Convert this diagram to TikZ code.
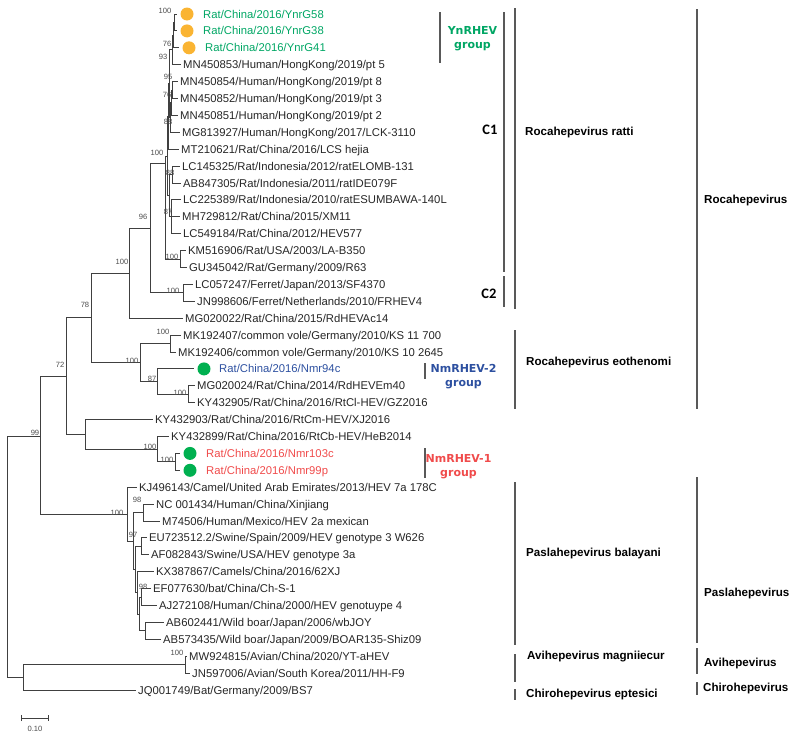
\documentclass[tikz,border=0pt]{standalone}
\usepackage{fontspec}
\setmainfont{Liberation Sans}
\newfontfamily\calfont{Carlito}
\newfontfamily\grpfont{DejaVu Sans}
\usetikzlibrary{arrows.meta}
\definecolor{ynGreen}{RGB}{0,166,100}
\definecolor{dotOrange}{RGB}{250,180,50}
\definecolor{dotGreen}{RGB}{0,176,80}
\definecolor{nmBlue}{RGB}{45,80,160}
\definecolor{nmRed}{RGB}{240,75,75}
\begin{document}
\begin{tikzpicture}[x=1pt,y=-1pt]
\tikzstyle{every node}+=[inner sep=0pt]
\tikzstyle{leaf}=[anchor=west,inner xsep=2.5pt,text height=8.1pt,text depth=0pt,font=\fontsize{11.3}{13}\selectfont,text=black!85]
\tikzstyle{boot}=[font=\fontsize{7.6}{9}\selectfont,text=black!70]
\tikzstyle{br}=[draw=black!75,line width=0.85pt]
\tikzstyle{bar}=[draw=black!65,line width=1.3pt]
\tikzstyle{taxon}=[anchor=west,text height=8.4pt,text depth=0pt,font=\bfseries\fontsize{11.6}{13}\selectfont]
\tikzstyle{clade}=[text height=10pt,text depth=0pt,font=\calfont\bfseries\fontsize{14.5}{16}\selectfont]
\tikzstyle{grp}=[align=center,font=\grpfont\bfseries\fontsize{11}{14}\selectfont]
\tikzstyle{odot}=[circle,fill=dotOrange,minimum size=13pt,outer sep=4pt]
\tikzstyle{gdot}=[circle,fill=dotGreen,minimum size=13pt,outer sep=4pt]
\useasboundingbox (0,0) rectangle (799,739);

\coordinate (root) at (7,556.6);
\coordinate (n99) at (40,436);
\coordinate (nOut) at (23,677.3);
\coordinate (nAvi) at (185,664.65);
\coordinate (n72) at (66,376.1);
\coordinate (nP) at (127,514.15);
\coordinate (n78) at (91,317.8);
\coordinate (nKY) at (85,434.4);
\coordinate (nKYb) at (157,449.2);
\coordinate (nNmr) at (175,461.85);
\coordinate (n100c) at (129,273);
\coordinate (nEo) at (140,362.6);
\coordinate (nMK) at (170,343.55);
\coordinate (n87e) at (157,381.6);
\coordinate (nMG) at (188,394.25);
\coordinate (n96) at (150,228);
\coordinate (nFer) at (183,292.85);
\coordinate (nRat) at (165,163);
\coordinate (nC1) at (167,156.1);
\coordinate (nKM) at (180,259.05);
\coordinate (n100b) at (168,116.45);
\coordinate (nR2) at (169,195.7);
\coordinate (n88b) at (172,174.55);
\coordinate (n87) at (171,216.8);
\coordinate (nHK) at (169,83.7);
\coordinate (n88a) at (170,117.5);
\coordinate (n76b) at (171,102.7);
\coordinate (n95) at (172,90.05);
\coordinate (n93) at (172,49.9);
\coordinate (nYb) at (173,35.1);
\coordinate (nYa) at (174,22.45);
\coordinate (nA) at (133,541.1);
\coordinate (n98a) at (143,512.55);
\coordinate (nG34) at (135,569.6);
\coordinate (nG3) at (141,546.35);
\coordinate (nG4) at (137,592.8);
\coordinate (nG4b) at (139,613.95);
\coordinate (nG4a) at (141,597.05);
\coordinate (nBoar) at (145,630.85);

\node[odot] (d1) at (187,14) {};
\node[leaf,text=ynGreen] (l1) at (200.5,14) {Rat/China/2016/YnrG58};
\node[odot] (d2) at (187,30.9) {};
\node[leaf,text=ynGreen] (l2) at (200.5,30.9) {Rat/China/2016/YnrG38};
\node[odot] (d3) at (189,47.8) {};
\node[leaf,text=ynGreen] (l3) at (202.5,47.8) {Rat/China/2016/YnrG41};
\node[leaf] (l4) at (180.5,64.7) {MN450853/Human/HongKong/2019/pt 5};
\node[leaf] (l5) at (177.5,81.6) {MN450854/Human/HongKong/2019/pt 8};
\node[leaf] (l6) at (177.5,98.5) {MN450852/Human/HongKong/2019/pt 3};
\node[leaf] (l7) at (177.5,115.4) {MN450851/Human/HongKong/2019/pt 2};
\node[leaf] (l8) at (179.5,132.3) {MG813927/Human/HongKong/2017/LCK-3110};
\node[leaf] (l9) at (178.5,149.2) {MT210621/Rat/China/2016/LCS hejia};
\node[leaf] (l10) at (179.5,166.1) {LC145325/Rat/Indonesia/2012/ratELOMB-131};
\node[leaf] (l11) at (180.5,183) {AB847305/Rat/Indonesia/2011/ratIDE079F};
\node[leaf] (l12) at (180.5,199.9) {LC225389/Rat/Indonesia/2010/ratESUMBAWA-140L};
\node[leaf] (l13) at (179.5,216.8) {MH729812/Rat/China/2015/XM11};
\node[leaf] (l14) at (180.5,233.7) {LC549184/Rat/China/2012/HEV577};
\node[leaf] (l15) at (185.5,250.6) {KM516906/Rat/USA/2003/LA-B350};
\node[leaf] (l16) at (186.5,267.5) {GU345042/Rat/Germany/2009/R63};
\node[leaf] (l17) at (192.5,284.4) {LC057247/Ferret/Japan/2013/SF4370};
\node[leaf] (l18) at (194.5,301.3) {JN998606/Ferret/Netherlands/2010/FRHEV4};
\node[leaf] (l19) at (182.5,318.2) {MG020022/Rat/China/2015/RdHEVAc14};
\node[leaf] (l20) at (180.5,335.1) {MK192407/common vole/Germany/2010/KS 11 700};
\node[leaf] (l21) at (175.5,352) {MK192406/common vole/Germany/2010/KS 10 2645};
\node[gdot] (d22) at (204,368.9) {};
\node[leaf,text=nmBlue] (l22) at (216.5,368.9) {Rat/China/2016/Nmr94c};
\node[leaf] (l23) at (194.5,385.8) {MG020024/Rat/China/2014/RdHEVEm40};
\node[leaf] (l24) at (194.5,402.7) {KY432905/Rat/China/2016/RtCl-HEV/GZ2016};
\node[leaf] (l25) at (152.5,419.6) {KY432903/Rat/China/2016/RtCm-HEV/XJ2016};
\node[leaf] (l26) at (168.5,436.5) {KY432899/Rat/China/2016/RtCb-HEV/HeB2014};
\node[gdot] (d27) at (190,453.4) {};
\node[leaf,text=nmRed] (l27) at (203.5,453.4) {Rat/China/2016/Nmr103c};
\node[gdot] (d28) at (190,470.3) {};
\node[leaf,text=nmRed] (l28) at (203.5,470.3) {Rat/China/2016/Nmr99p};
\node[leaf] (l29) at (136.5,487.2) {KJ496143/Camel/United Arab Emirates/2013/HEV 7a 178C};
\node[leaf] (l30) at (153.5,504.1) {NC 001434/Human/China/Xinjiang};
\node[leaf] (l31) at (159.5,521) {M74506/Human/Mexico/HEV 2a mexican};
\node[leaf] (l32) at (146.5,537.9) {EU723512.2/Swine/Spain/2009/HEV genotype 3 W626};
\node[leaf] (l33) at (148.5,554.8) {AF082843/Swine/USA/HEV genotype 3a};
\node[leaf] (l34) at (153.5,571.7) {KX387867/Camels/China/2016/62XJ};
\node[leaf] (l35) at (150.5,588.6) {EF077630/bat/China/Ch-S-1};
\node[leaf] (l36) at (156.5,605.5) {AJ272108/Human/China/2000/HEV genotuype 4};
\node[leaf] (l37) at (163.5,622.4) {AB602441/Wild boar/Japan/2006/wbJOY};
\node[leaf] (l38) at (160.5,639.3) {AB573435/Wild boar/Japan/2009/BOAR135-Shiz09};
\node[leaf] (l39) at (186.5,656.2) {MW924815/Avian/China/2020/YT-aHEV};
\node[leaf] (l40) at (189.5,673.1) {JN597006/Avian/South Korea/2011/HH-F9};
\node[leaf] (l41) at (135.5,690) {JQ001749/Bat/Germany/2009/BS7};

\draw[br] (root) |- (n99);
\draw[br] (root) |- (nOut);
\draw[br] (nOut) |- (nAvi);
\draw[br] (nOut) |- (l41.west);
\draw[br] (nAvi) |- (l39.west);
\draw[br] (nAvi) |- (l40.west);
\draw[br] (n99) |- (n72);
\draw[br] (n99) |- (nP);
\draw[br] (n72) |- (n78);
\draw[br] (n72) |- (nKY);
\draw[br] (n78) |- (n100c);
\draw[br] (n78) |- (nEo);
\draw[br] (n100c) |- (n96);
\draw[br] (n100c) |- (l19.west);
\draw[br] (n96) |- (nRat);
\draw[br] (n96) |- (nFer);
\draw[br] (nRat) |- (nC1);
\draw[br] (nRat) |- (nKM);
\draw[br] (nC1) |- (n100b);
\draw[br] (nC1) |- (nR2);
\draw[br] (n100b) |- (nHK);
\draw[br] (n100b) |- (l9.west);
\draw[br] (nHK) |- (n93);
\draw[br] (nHK) |- (n88a);
\draw[br] (n93) |- (nYb);
\draw[br] (n93) |- (l4.west);
\draw[br] (nYb) |- (nYa);
\draw[br] (nYb) |- (d3.west);
\draw[br] (nYa) |- (d1.west);
\draw[br] (nYa) |- (d2.west);
\draw[br] (n88a) |- (n76b);
\draw[br] (n88a) |- (l8.west);
\draw[br] (n76b) |- (n95);
\draw[br] (n76b) |- (l7.west);
\draw[br] (n95) |- (l5.west);
\draw[br] (n95) |- (l6.west);
\draw[br] (nR2) |- (n88b);
\draw[br] (nR2) |- (n87);
\draw[br] (n88b) |- (l10.west);
\draw[br] (n88b) |- (l11.west);
\draw[br] (n87) |- (l12.west);
\draw[br] (n87) |- (l13.west);
\draw[br] (n87) |- (l14.west);
\draw[br] (nKM) |- (l15.west);
\draw[br] (nKM) |- (l16.west);
\draw[br] (nFer) |- (l17.west);
\draw[br] (nFer) |- (l18.west);
\draw[br] (nEo) |- (nMK);
\draw[br] (nEo) |- (n87e);
\draw[br] (nMK) |- (l20.west);
\draw[br] (nMK) |- (l21.west);
\draw[br] (n87e) |- (d22.west);
\draw[br] (n87e) |- (nMG);
\draw[br] (nMG) |- (l23.west);
\draw[br] (nMG) |- (l24.west);
\draw[br] (nKY) |- (l25.west);
\draw[br] (nKY) |- (nKYb);
\draw[br] (nKYb) |- (l26.west);
\draw[br] (nKYb) |- (nNmr);
\draw[br] (nNmr) |- (d27.west);
\draw[br] (nNmr) |- (d28.west);
\draw[br] (nP) |- (l29.west);
\draw[br] (nP) |- (nA);
\draw[br] (nA) |- (n98a);
\draw[br] (nA) |- (nG34);
\draw[br] (n98a) |- (l30.west);
\draw[br] (n98a) |- (l31.west);
\draw[br] (nG34) |- (nG3);
\draw[br] (nG34) |- (nG4);
\draw[br] (nG3) |- (l32.west);
\draw[br] (nG3) |- (l33.west);
\draw[br] (nG4) |- (l34.west);
\draw[br] (nG4) |- (nG4b);
\draw[br] (nG4b) |- (nG4a);
\draw[br] (nG4b) |- (nBoar);
\draw[br] (nG4a) |- (l35.west);
\draw[br] (nG4a) |- (l36.west);
\draw[br] (nBoar) |- (l37.west);
\draw[br] (nBoar) |- (l38.west);

\node[boot] (b1) at (165,11) {100};
\node[boot] (b2) at (167,44) {76};
\node[boot] (b3) at (163,57) {93};
\node[boot] (b4) at (168,77) {95};
\node[boot] (b5) at (167,95) {76};
\node[boot] (b6) at (168,122) {88};
\node[boot] (b7) at (157,153) {100};
\node[boot] (b8) at (170,173) {88};
\node[boot] (b9) at (168,212) {87};
\node[boot] (b10) at (143,217) {96};
\node[boot] (b11) at (172,257) {100};
\node[boot] (b12) at (122,262) {100};
\node[boot] (b13) at (173,291) {100};
\node[boot] (b14) at (85,305) {78};
\node[boot] (b15) at (163,332) {100};
\node[boot] (b16) at (132,361) {100};
\node[boot] (b17) at (60,365) {72};
\node[boot] (b18) at (152,379) {87};
\node[boot] (b19) at (180,393) {100};
\node[boot] (b20) at (35,433) {99};
\node[boot] (b21) at (150,447) {100};
\node[boot] (b22) at (167,460) {100};
\node[boot] (b23) at (137,500) {98};
\node[boot] (b24) at (117,513) {100};
\node[boot] (b25) at (133,535) {97};
\node[boot] (b26) at (143,587) {98};
\node[boot] (b27) at (177,653) {100};

\coordinate (s0) at (21,718);
\coordinate (s1) at (49,718);
\draw[br,{Bar[width=6pt]}-{Bar[width=6pt]}] (s0) -- (s1);
\node[boot] (sl) at (35,729) {0.10};

\draw[bar] (440,12) -- (440,63);
\node[grp,text=ynGreen] (gy) at (472.5,38.5) {YnRHEV\\group};
\draw[bar] (425,363) -- (425,379);
\node[grp,text=nmBlue] (g2) at (463.5,376.5) {NmRHEV-2\\group};
\draw[bar] (425,448) -- (425,478);
\node[grp,text=nmRed] (g1) at (458.5,467) {NmRHEV-1\\group};

\draw[bar] (504,12) -- (504,272);
\node[clade] (c1) at (490,129) {C1};
\draw[bar] (504,276) -- (504,307);
\node[clade] (c2) at (489,293) {C2};

\draw[bar] (515,8) -- (515,309);
\node[taxon] (sp1) at (525,131) {Rocahepevirus ratti};
\draw[bar] (515,330) -- (515,409);
\node[taxon] (sp2) at (526,361) {Rocahepevirus eothenomi};
\draw[bar] (515,482) -- (515,645);
\node[taxon] (sp3) at (526,552) {Paslahepevirus balayani};
\draw[bar] (515,654) -- (515,682);
\node[taxon] (sp4) at (527,655) {Avihepevirus magniiecur};
\draw[bar] (515,689) -- (515,700);
\node[taxon] (sp5) at (526,693) {Chirohepevirus eptesici};

\draw[bar] (697,9) -- (697,409);
\node[taxon] (ge1) at (704,199) {Rocahepevirus};
\draw[bar] (697,477) -- (697,643);
\node[taxon] (ge2) at (704,592) {Paslahepevirus};
\draw[bar] (697,648) -- (697,674);
\node[taxon] (ge3) at (704,662) {Avihepevirus};
\draw[bar] (697,682) -- (697,695);
\node[taxon] (ge4) at (703,687) {Chirohepevirus};
\end{tikzpicture}
\end{document}
